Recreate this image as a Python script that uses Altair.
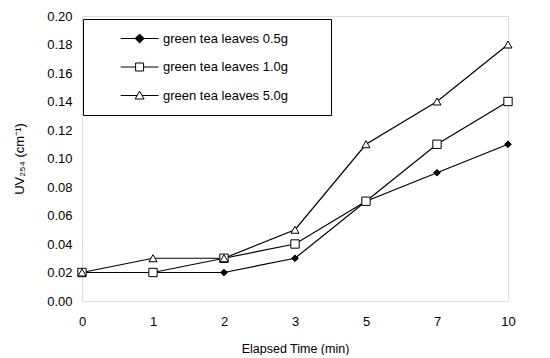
import altair as alt
import pandas as pd

times = ["0", "1", "2", "3", "5", "7", "10"]
series = ["green tea leaves 0.5g", "green tea leaves 1.0g", "green tea leaves 5.0g"]
v05 = [0.02, 0.02, 0.02, 0.03, 0.07, 0.09, 0.11]
v10 = [0.02, 0.02, 0.03, 0.04, 0.07, 0.11, 0.14]
v50 = [0.02, 0.03, 0.03, 0.05, 0.11, 0.14, 0.18]
y_ticks = [0.0, 0.02, 0.04, 0.06, 0.08, 0.10, 0.12, 0.14, 0.16, 0.18, 0.20]

rows = []
for s, vals in zip(series, [v05, v10, v50]):
    for t, v in zip(times, vals):
        rows.append({"time": t, "uv": v, "series": s})
df = pd.DataFrame(rows)

FONT = "Liberation Sans"

x = alt.X("time:O", sort=times,
          scale=alt.Scale(type="point", padding=0),
          axis=alt.Axis(title="Elapsed Time (min)", labelAngle=0, ticks=False,
                        domain=False, grid=False, labelPadding=14, titlePadding=14,
                        labelFontSize=13, titleFontSize=12.5, titleFontWeight="normal"))
y = alt.Y("uv:Q", scale=alt.Scale(domain=[0, 0.2], nice=False),
          axis=alt.Axis(title="UV₂₅₄ (cm⁻¹)", format=".2f", values=y_ticks,
                        ticks=False, domain=False, grid=False, labelPadding=10,
                        titlePadding=20, labelFontSize=13, titleFontSize=13,
                        titleFontWeight="normal"))

base = alt.Chart(df)

lines = base.mark_line(color="black", strokeWidth=1.2).encode(
    x=x, y=y, detail="series:N")

shapes = ["diamond", "square", "triangle-up"]
fills = ["black", "white", "white"]
strokes = ["black", "black", "black"]
sizes = [45, 70, 65]
point_layers = []
for s, sh, f, sz in zip(series, shapes, fills, sizes):
    point_layers.append(
        base.transform_filter(alt.datum.series == s).mark_point(
            shape=sh, filled=True, fill=f, stroke="black", strokeWidth=1,
            size=sz, opacity=1).encode(x=x, y=y))

legend_paths = [
    "M2.6,0L4.66,0M4.66,0L5.3,-0.64L5.94,0L5.3,0.64ZM5.94,0L8,0",
    "M2.6,0L4.73,0M4.73,-0.57L5.87,-0.57L5.87,0.57L4.73,0.57ZM5.87,0L8,0",
    "M2.6,0L4.95,0M5.3,-0.62L5.94,0.5L4.66,0.5ZM5.65,0L8,0",
]

leg = alt.Legend(
    title=None, orient="none", legendX=1, legendY=3,
    strokeColor="black", fillColor="white", padding=12,
    symbolSize=196, symbolStrokeColor="black", symbolStrokeWidth=1,
    symbolOpacity=1, labelOffset=53, rowPadding=13.5,
    labelFontSize=13, labelFont=FONT, labelLimit=400,
    labelExpr="datum.label + '\u2800\u2800\u2800'")

legend_layer = base.mark_point(opacity=0, filled=False, strokeWidth=1).encode(
    x=x, y=y,
    shape=alt.Shape("series:N", scale=alt.Scale(domain=series, range=legend_paths),
                    legend=leg),
    fill=alt.Fill("series:N", scale=alt.Scale(domain=series, range=fills),
                  legend=leg),
    stroke=alt.Stroke("series:N", scale=alt.Scale(domain=series, range=strokes),
                      legend=leg),
)

chart = alt.layer(lines, *point_layers, legend_layer).properties(
    width=426, height=285,
    padding={"left": 5, "top": 2, "right": 10, "bottom": 0},
).configure_view(stroke="black", strokeWidth=1).configure(
    font=FONT
)

chart.save("out.html", embed_options={"renderer": "svg", "actions": False})
